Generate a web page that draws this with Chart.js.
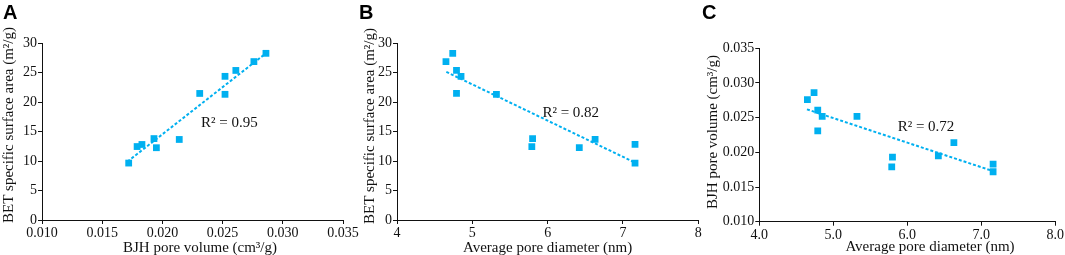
<!DOCTYPE html>
<html>
<head>
<meta charset="utf-8">
<script src="https://cdn.jsdelivr.net/npm/chart.js@4.4.1/dist/chart.umd.min.js"></script>
<style>
  body { margin: 0; width: 1065px; height: 255px; background: #fff; overflow: hidden; position: relative; }
  canvas { position: absolute; top: 0; }
  .tag { position: absolute; top: 1px; line-height: 20px; font: bold 20px "Liberation Sans", Arial, sans-serif; color: #000; }
</style>
</head>
<body>
<canvas id="chartA" width="370" height="255" style="left:0px"></canvas>
<canvas id="chartB" width="370" height="255" style="left:355px"></canvas>
<canvas id="chartC" width="365" height="255" style="left:700px"></canvas>
<div class="tag" style="left:3px">A</div>
<div class="tag" style="left:359px">B</div>
<div class="tag" style="left:702px">C</div>
<script>
// one value per sample, same order in every array
let poreDiameter = [4.65, 4.74, 4.79, 4.85, 4.79, 5.32, 5.80, 5.79, 6.42, 6.63, 7.16, 7.16];
let betArea      = [26.85, 28.25, 25.35, 24.35, 21.45, 21.3, 13.8, 12.45, 12.25, 13.65, 12.8, 9.65];
let bjhVolume    = [0.0276, 0.0286, 0.0261, 0.0252, 0.0231, 0.0252, 0.0193, 0.0179, 0.0195, 0.0214, 0.0183, 0.0172];

// trend line end points
let trendA = [[0.0171, 9.9], [0.0285, 28.1]];
let trendB = [[4.655, 25.1], [7.17, 9.66]];
let trendC = [[4.644, 0.0262], [7.158, 0.0173]];

let r2Labels = ['R² = 0.95', 'R² = 0.82', 'R² = 0.72'];
let r2Pos = [[0.0232, 16.5], [5.93, 18.1], [5.87, 0.0237]];

let blue = '#00b0f0';
let ink = '#111';
let serif = '"Liberation Serif", "Times New Roman", serif';

function pairs(xs, ys) {
  return xs.map((x, i) => ({ x: x, y: ys[i] }));
}

let panelText = {
  id: 'panelText',
  afterDraw(chart, args, o) {
    let ctx = chart.ctx;
    let xs = chart.scales.x;
    let ys = chart.scales.y;
    ctx.save();
    ctx.fillStyle = ink;
    ctx.font = '15px ' + serif;
    ctx.textBaseline = 'middle';
    ctx.textAlign = 'left';
    ctx.fillText(o.r2, xs.getPixelForValue(o.r2At[0]), ys.getPixelForValue(o.r2At[1]));
    ctx.textAlign = 'center';
    ctx.fillText(o.xTitle, o.xTitleAt[0], o.xTitleAt[1]);
    ctx.translate(o.yTitleAt[0], o.yTitleAt[1]);
    ctx.rotate(-Math.PI / 2);
    ctx.fillText(o.yTitle, 0, 0);
    ctx.restore();
  }
};

function axis(min, max, step, digits) {
  return {
    type: 'linear',
    min: min,
    max: max,
    ticks: {
      stepSize: step,
      autoSkip: false,
      maxRotation: 0,
      padding: 1,
      color: ink,
      font: { family: serif, size: 14 },
      callback: (v) => v.toFixed(digits)
    },
    grid: { drawOnChartArea: false, tickLength: 4, color: ink },
    border: { color: ink, width: 1 }
  };
}

function makeChart(id, p) {
  let xAxis = axis(p.xMin, p.xMax, p.xStep, p.xDigits);
  xAxis.afterFit = (s) => { s.height = p.xh; };
  let yAxis = axis(p.yMin, p.yMax, p.yStep, p.yDigits);
  yAxis.afterFit = (s) => { s.width = p.yw; };

  new Chart(document.getElementById(id), {
    type: 'scatter',
    data: {
      datasets: [{
        data: pairs(p.xs, p.ys),
        pointStyle: 'rect',
        pointRadius: 4.8,
        pointHoverRadius: 4.8,
        pointBorderWidth: 0,
        backgroundColor: blue,
        order: 0
      }, {
        type: 'line',
        data: p.trend.map((t) => ({ x: t[0], y: t[1] })),
        borderColor: blue,
        borderWidth: 2,
        borderDash: [3, 2],
        pointRadius: 0,
        fill: false,
        order: 1
      }]
    },
    options: {
      responsive: false,
      animation: false,
      layout: { padding: { left: 0, top: p.top, right: p.right, bottom: 0 } },
      scales: { x: xAxis, y: yAxis },
      plugins: {
        legend: { display: false },
        tooltip: { enabled: false },
        panelText: {
          r2: p.r2,
          r2At: p.r2At,
          xTitle: p.xTitle,
          xTitleAt: p.xTitleAt,
          yTitle: p.yTitle,
          yTitleAt: p.yTitleAt
        }
      }
    },
    plugins: [panelText]
  });
}

makeChart('chartA', {
  xs: bjhVolume, ys: betArea, trend: trendA,
  xMin: 0.010, xMax: 0.035, xStep: 0.005, xDigits: 3,
  yMin: 0, yMax: 30, yStep: 5, yDigits: 0,
  yw: 42, xh: 35, top: 43, right: 27,
  r2: r2Labels[0], r2At: r2Pos[0],
  xTitle: 'BJH pore volume (cm³/g)', xTitleAt: [200, 248],
  yTitle: 'BET specific surface area (m²/g)', yTitleAt: [9.5, 125]
});

makeChart('chartB', {
  xs: poreDiameter, ys: betArea, trend: trendB,
  xMin: 4, xMax: 8, xStep: 1, xDigits: 0,
  yMin: 0, yMax: 30, yStep: 5, yDigits: 0,
  yw: 42, xh: 35, top: 43, right: 26.7,
  r2: r2Labels[1], r2At: r2Pos[1],
  xTitle: 'Average pore diameter (nm)', xTitleAt: [192.6, 248],
  yTitle: 'BET specific surface area (m²/g)', yTitleAt: [15, 126]
});

makeChart('chartC', {
  xs: poreDiameter, ys: bjhVolume, trend: trendC,
  xMin: 4, xMax: 8, xStep: 1, xDigits: 1,
  yMin: 0.010, yMax: 0.035, yStep: 0.005, yDigits: 3,
  yw: 59.3, xh: 33.3, top: 48.3, right: 9.7,
  r2: r2Labels[2], r2At: r2Pos[2],
  xTitle: 'Average pore diameter (nm)', xTitleAt: [230, 247],
  yTitle: 'BJH pore volume (cm³/g)', yTitleAt: [13, 132]
});
</script>
</body>
</html>
